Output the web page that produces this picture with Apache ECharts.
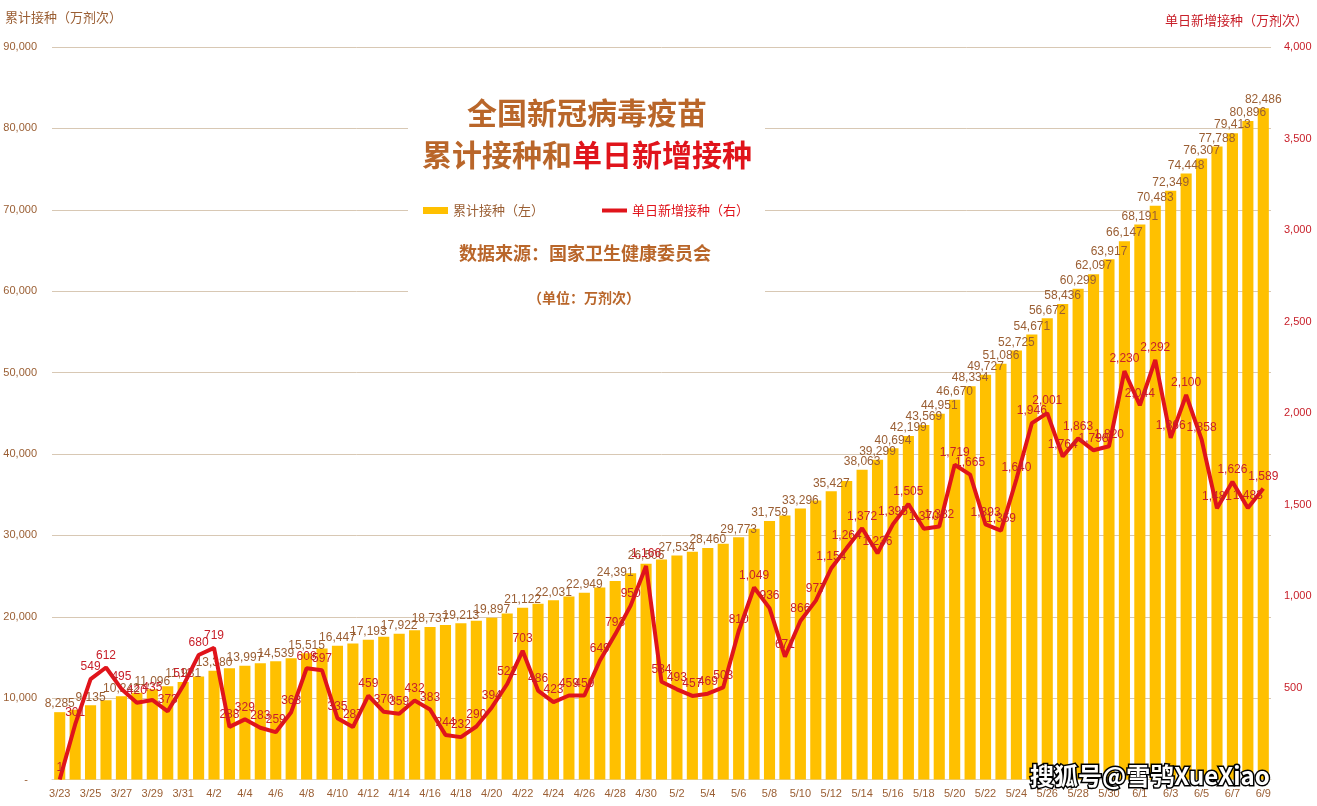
<!DOCTYPE html>
<html><head><meta charset="utf-8">
<script src="https://cdn.jsdelivr.net/npm/echarts@6/dist/echarts.min.js"></script>
<style>html,body{margin:0;padding:0;background:#fff}#c{width:1317px;height:806px}</style>
</head><body><div id="c"></div>
<script>
const dates = ['3/23','3/24','3/25','3/26','3/27','3/28','3/29','3/30','3/31',
'4/1','4/2','4/3','4/4','4/5','4/6','4/7','4/8','4/9','4/10','4/11','4/12','4/13','4/14','4/15','4/16','4/17','4/18','4/19','4/20','4/21','4/22','4/23','4/24','4/25','4/26','4/27','4/28','4/29','4/30',
'5/1','5/2','5/3','5/4','5/5','5/6','5/7','5/8','5/9','5/10','5/11','5/12','5/13','5/14','5/15','5/16','5/17','5/18','5/19','5/20','5/21','5/22','5/23','5/24','5/25','5/26','5/27','5/28','5/29','5/30','5/31',
'6/1','6/2','6/3','6/4','6/5','6/6','6/7','6/8','6/9'];
const cumulative = [8285,8586,9135,9747,10242,10662,11096,11469,11981,
12661,13380,13668,13997,14280,14539,14907,15515,16112,16447,16734,17193,17563,17922,18354,18737,18981,19213,19503,19897,20419,21122,21608,22031,22490,22949,23598,24391,25341,26506,
27041,27534,27991,28460,28963,29773,30822,31759,32430,33296,34273,35427,36691,38063,39299,40694,42199,43569,44951,46670,48334,49727,51086,52725,54671,56672,58436,60299,62097,63917,66147,
68191,70483,72349,74448,76307,77788,79413,80896,82486];
const daily = [1,301,549,612,495,420,435,373,512,
680,719,288,329,283,259,368,608,597,335,287,459,370,359,432,383,244,232,290,394,522,703,486,423,459,459,649,793,950,1166,
534,493,457,469,503,810,1049,936,671,866,977,1154,1264,1372,1236,1395,1505,1370,1382,1719,1665,1393,1359,1640,1946,2001,1764,1863,1798,1820,2230,
2044,2292,1866,2100,1858,1481,1626,1483,1589];
const leftTicks = {min:0, max:90000, interval:10000};
const rightTicks = {min:0, max:4000, interval:500};

const BROWN = '#9A5E33', TITLE = '#B9662A', RED = '#E0141B', RED_TXT = '#C8202A';
const NUM_FONT = '"Liberation Sans Narrow","Liberation Sans",Arial,sans-serif';
const CJK = '"Noto Sans CJK SC","Noto Sans",sans-serif';
const fmt = v => Number(v).toLocaleString('en-US');

const chart = echarts.init(document.getElementById('c'), null, {renderer:'canvas'});
chart.setOption({
  backgroundColor:'#fff',
  animation:false,
  grid:{left:52, right:46, top:47, bottom:26.4, containLabel:false},
  legend:{
    left:418, top:199, itemGap:58, itemWidth:25, itemHeight:7,
    textStyle:{fontFamily:CJK, fontSize:13},
    data:[
      {name:'累计接种（左）', icon:'rect', textStyle:{color:BROWN}},
      {name:'单日新增接种（右）', icon:'path://M0,0h25v4h-25z', textStyle:{color:RED}}
    ]
  },
  xAxis:{
    type:'category', data:dates, boundaryGap:true,
    axisTick:{show:false},
    axisLine:{lineStyle:{color:'#d9d2c8'}},
    axisLabel:{interval:1, color:BROWN, fontSize:11, margin:9, fontFamily:'"Liberation Sans",Arial,sans-serif'}
  },
  yAxis:[
    {type:'value', min:leftTicks.min, max:leftTicks.max, interval:leftTicks.interval,
     axisLine:{show:false}, axisTick:{show:false},
     splitLine:{lineStyle:{color:'#D8C8B4', width:1}},
     axisLabel:{color:BROWN, fontSize:11, margin:15, fontFamily:'"Liberation Sans",Arial,sans-serif',
       formatter:v => v===0 ? '-   ' : fmt(v)}},
    {type:'value', min:rightTicks.min, max:rightTicks.max, interval:rightTicks.interval,
     axisLine:{show:false}, axisTick:{show:false}, splitLine:{show:false},
     axisLabel:{color:RED_TXT, fontSize:11, margin:13, fontFamily:'"Liberation Sans",Arial,sans-serif',
       formatter:v => v===0 ? '' : fmt(v)}}
  ],
  series:[
    {name:'累计接种（左）', type:'bar', data:cumulative, yAxisIndex:0,
     barCategoryGap:'28%', itemStyle:{color:'#FFC000'},
     label:{show:true, position:'top', distance:2, color:BROWN, fontSize:12, fontFamily:NUM_FONT,
       formatter:p => (p.dataIndex%2===0 || p.dataIndex>=52) ? fmt(p.value) : ''}},
    {name:'单日新增接种（右）', type:'line', data:daily, yAxisIndex:1,
     symbol:'circle', symbolSize:0.01, showSymbol:true, showAllSymbol:true,
     lineStyle:{color:RED, width:4}, itemStyle:{color:RED},
     z:3,
     label:{show:true, position:'top', distance:6, color:RED_TXT, fontSize:12, fontFamily:NUM_FONT,
       formatter:p => fmt(p.value)}}
  ],
  graphic:[
    {type:'rect', z:1, shape:{x:408, y:82, width:357, height:226}, style:{fill:'#fff'}},
    {type:'text', z:10, x:587, y:113, style:{text:'全国新冠病毒疫苗', fill:TITLE, font:'bold 30px '+CJK, align:'center', verticalAlign:'middle', textAlign:'center', textVerticalAlign:'middle'}},
    {type:'text', z:10, x:587, y:155, style:{text:'{a|累计接种和}{b|单日新增接种}', align:'center', verticalAlign:'middle', textAlign:'center', textVerticalAlign:'middle',
      rich:{a:{fill:TITLE, color:TITLE, font:'bold 30px '+CJK, fontSize:30, fontWeight:'bold', fontFamily:CJK},
            b:{fill:RED, color:RED, font:'bold 30px '+CJK, fontSize:30, fontWeight:'bold', fontFamily:CJK}}}},
    {type:'text', z:10, x:585, y:253, style:{text:'数据来源：国家卫生健康委员会', fill:TITLE, font:'bold 18px '+CJK, align:'center', verticalAlign:'middle', textAlign:'center', textVerticalAlign:'middle'}},
    {type:'text', z:10, x:584, y:298, style:{text:'（单位：万剂次）', fill:TITLE, font:'bold 14px '+CJK, align:'center', verticalAlign:'middle', textAlign:'center', textVerticalAlign:'middle'}},
    {type:'text', z:10, x:5, y:17, style:{text:'累计接种（万剂次）', fill:BROWN, font:'13px '+CJK, verticalAlign:'middle', textVerticalAlign:'middle'}},
    {type:'text', z:10, x:1308, y:20, style:{text:'单日新增接种（万剂次）', fill:RED_TXT, font:'13px '+CJK, align:'right', textAlign:'right', verticalAlign:'middle', textVerticalAlign:'middle'}},
    {type:'text', z:20, x:1030, y:776, style:{text:'搜狐号@雪鸮XueXiao', fill:'#fff', stroke:'#000', lineWidth:3, font:'bold 24px '+CJK, verticalAlign:'middle', textVerticalAlign:'middle'}}
  ]
});
</script></body></html>
